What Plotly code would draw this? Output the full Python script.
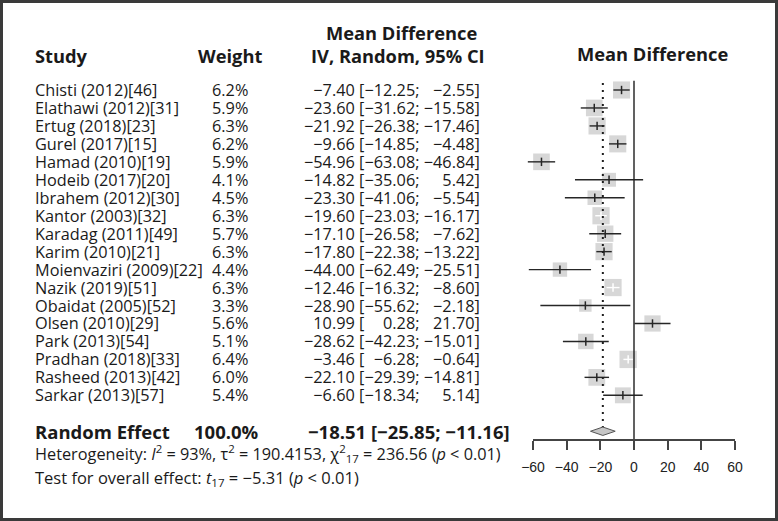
import math
import plotly.graph_objects as go

# ---------------- data ----------------
studies = [
    "Chisti (2012)[46]", "Elathawi (2012)[31]", "Ertug (2018)[23]", "Gurel (2017)[15]",
    "Hamad (2010)[19]", "Hodeib (2017)[20]", "Ibrahem (2012)[30]", "Kantor (2003)[32]",
    "Karadag (2011)[49]", "Karim (2010)[21]", "Moienvaziri (2009)[22]", "Nazik (2019)[51]",
    "Obaidat (2005)[52]", "Olsen (2010)[29]", "Park (2013)[54]", "Pradhan (2018)[33]",
    "Rasheed (2013)[42]", "Sarkar (2013)[57]",
]
weights = [6.2, 5.9, 6.3, 6.2, 5.9, 4.1, 4.5, 6.3, 5.7, 6.3, 4.4, 6.3, 3.3, 5.6, 5.1, 6.4, 6.0, 5.4]
mean_diff = [-7.40, -23.60, -21.92, -9.66, -54.96, -14.82, -23.30, -19.60, -17.10, -17.80,
             -44.00, -12.46, -28.90, 10.99, -28.62, -3.46, -22.10, -6.60]
ci_lower = [-12.25, -31.62, -26.38, -14.85, -63.08, -35.06, -41.06, -23.03, -26.58, -22.38,
            -62.49, -16.32, -55.62, 0.28, -42.23, -6.28, -29.39, -18.34]
ci_upper = [-2.55, -15.58, -17.46, -4.48, -46.84, 5.42, -5.54, -16.17, -7.62, -13.22,
            -25.51, -8.60, -2.18, 21.70, -15.01, -0.64, -14.81, 5.14]

pooled_label = "Random Effect"
pooled_weight = 100.0
pooled_md = -18.51
pooled_lower = -25.85
pooled_upper = -11.16

het_i2 = 93
het_tau2 = 190.4153
het_chi2 = 236.56
het_df = 17
test_t = -5.31
test_df = 17

tick_vals = [-60, -40, -20, 0, 20, 40, 60]

# ---------------- layout constants (pixels) ----------------
W, H = 778, 521
ZERO_PX = 634.0
PX_PER_UNIT = 101.0 / 60.0
ROW0_PX = 90.0
ROW_H = 17.96
AXIS_PX = 440.0
BOX_K = 6.85
FONT = "Open Sans"
TXT = "#1a1a1a"

def fx(px):
    return px / W

def fy(px):
    return 1 - px / H

def row_of(px):
    return (px - ROW0_PX) / ROW_H

def num(v, width=6):
    s = f"{abs(v):.2f}"
    if v < 0:
        s = "\u2212" + s
    return "\u2007" * (width - len(s)) + s

def tick_text(v):
    return ("\u2212" if v < 0 else "") + str(abs(v))

n = len(studies)
rows = list(range(n))
pooled_row = n + 1

fig = go.Figure()

# study boxes
box_sizes = [BOX_K * math.sqrt(w) for w in weights]
fig.add_trace(go.Scatter(
    x=mean_diff, y=rows, mode="markers",
    marker=dict(symbol="square", size=box_sizes, color="#c6c6c6", line=dict(width=0)),
    hoverinfo="skip", showlegend=False))

# confidence intervals (white when the CI lies inside the box)
inside = [(u - l) * PX_PER_UNIT < 0.8 * s for l, u, s in zip(ci_lower, ci_upper, box_sizes)]
for color, flag in (("#262626", False), ("#ffffff", True)):
    xs, ys, ex, ey = [], [], [], []
    for i in rows:
        if inside[i] == flag:
            xs += [ci_lower[i], ci_upper[i], None]
            ys += [i, i, None]
            ex.append(mean_diff[i])
            ey.append(i)
    if ex:
        fig.add_trace(go.Scatter(x=xs, y=ys, mode="lines",
                                 line=dict(color=color, width=1.4),
                                 hoverinfo="skip", showlegend=False))
        fig.add_trace(go.Scatter(x=ex, y=ey, mode="markers",
                                 marker=dict(symbol="line-ns", size=6,
                                             line=dict(color=color, width=1.5)),
                                 hoverinfo="skip", showlegend=False))

# line of no effect
fig.add_trace(go.Scatter(x=[0, 0], y=[row_of(80.7), row_of(AXIS_PX)], mode="lines",
                         line=dict(color="#1e1e1e", width=1.4),
                         hoverinfo="skip", showlegend=False))
# dotted pooled-effect line
fig.add_trace(go.Scatter(x=[pooled_md, pooled_md], y=[row_of(83), pooled_row + 0.25],
                         mode="lines", line=dict(color="#1e1e1e", width=2, dash="2px,5px"),
                         hoverinfo="skip", showlegend=False))
# pooled diamond
dh = 4.2 / ROW_H
fig.add_trace(go.Scatter(
    x=[pooled_lower, pooled_md, pooled_upper, pooled_md, pooled_lower],
    y=[pooled_row, pooled_row - dh, pooled_row, pooled_row + dh, pooled_row],
    mode="lines", fill="toself", fillcolor="#c6c6c6",
    line=dict(color="#555555", width=1), hoverinfo="skip", showlegend=False))

# invisible trace carrying the visible scale axis
fig.add_trace(go.Scatter(x=[pooled_md], y=[pooled_row], xaxis="x2", yaxis="y",
                         mode="markers", marker=dict(opacity=0), hoverinfo="skip",
                         showlegend=False))

ann = []

def add(text, xpx, y, xanchor, size=16.3, bold=False, yref="paper"):
    ann.append(dict(text=f"<b>{text}</b>" if bold else text, x=fx(xpx), xref="paper",
                    y=y, yref=yref, xanchor=xanchor, yanchor="middle", showarrow=False,
                    font=dict(family=FONT, size=size, color=TXT)))

HS = 18.3
# headers
add("Study", 33, fy(55), "left", HS, True)
add("Weight", 230, fy(55), "center", HS, True)
add("Mean Difference", 401.5, fy(33), "center", HS, True)
add("IV, Random, 95% CI", 398, fy(55), "center", HS, True)
add("Mean Difference", 652.5, fy(53), "center", HS, True)

# study rows
for i in rows:
    add(studies[i], 33, i, "left", yref="y")
    add(f"{weights[i]:.1f}%", 250, i, "right", yref="y")
    add(f"{num(mean_diff[i])} [{num(ci_lower[i])}; {num(ci_upper[i])}]", 482, i, "right", yref="y")

# pooled row
add(pooled_label, 33, pooled_row, "left", 18.5, True, yref="y")
add(f"{pooled_weight:.1f}%", 261, pooled_row, "right", 18.5, True, yref="y")
add(f"{num(pooled_md)} [{num(pooled_lower)}; {num(pooled_upper)}]".replace("\u2007", ""),
    512, pooled_row, "right", 18.5, True, yref="y")

# heterogeneity and overall test
add(f"Heterogeneity: <i>I</i><sup>2</sup> = {het_i2}%, \u03c4<sup>2</sup> = {het_tau2:.4f}, "
    f"\u03c7<sup>2</sup><sub>{het_df}</sub> = {het_chi2:.2f} (<i>p</i> &lt; 0.01)",
    33, fy(453), "left", 16.3)
add(f"Test for overall effect: <i>t</i><sub>{test_df}</sub> = {num(test_t).replace(chr(0x2007), '')} "
    f"(<i>p</i> &lt; 0.01)", 33, fy(478), "left", 16.5)

shapes = [dict(type="rect", xref="paper", yref="paper", x0=fx(1.5), x1=fx(W - 1.5),
               y0=fy(H - 1.5), y1=fy(1.5), line=dict(color="#3a3a3a", width=3))]

fig.update_layout(
    width=W, height=H, margin=dict(l=0, r=0, t=0, b=0, autoexpand=False),
    paper_bgcolor="white", plot_bgcolor="rgba(0,0,0,0)",
    showlegend=False, annotations=ann, shapes=shapes,
    xaxis=dict(domain=[0, 1], range=[-ZERO_PX / PX_PER_UNIT, (W - ZERO_PX) / PX_PER_UNIT],
               visible=False, fixedrange=True, automargin=False),
    yaxis=dict(domain=[0, 1], range=[row_of(H), row_of(0)], visible=False, fixedrange=True,
               automargin=False),
    xaxis2=dict(domain=[fx(ZERO_PX + tick_vals[0] * PX_PER_UNIT),
                        fx(ZERO_PX + tick_vals[-1] * PX_PER_UNIT)],
                range=[tick_vals[0], tick_vals[-1]], anchor="free", position=fy(AXIS_PX),
                automargin=False,
                showline=True, linecolor="#444444", linewidth=1.5,
                ticks="outside", ticklen=9, tickwidth=1.5, tickcolor="#444444",
                ticklabelstandoff=5,
                tickvals=tick_vals, ticktext=[tick_text(v) for v in tick_vals],
                showgrid=False, zeroline=False, fixedrange=True,
                tickfont=dict(family="Liberation Sans", size=14, color="#222222")),
)

fig.write_html("out.html", post_script="document.body.style.margin='0';",
               config={"displayModeBar": False})
